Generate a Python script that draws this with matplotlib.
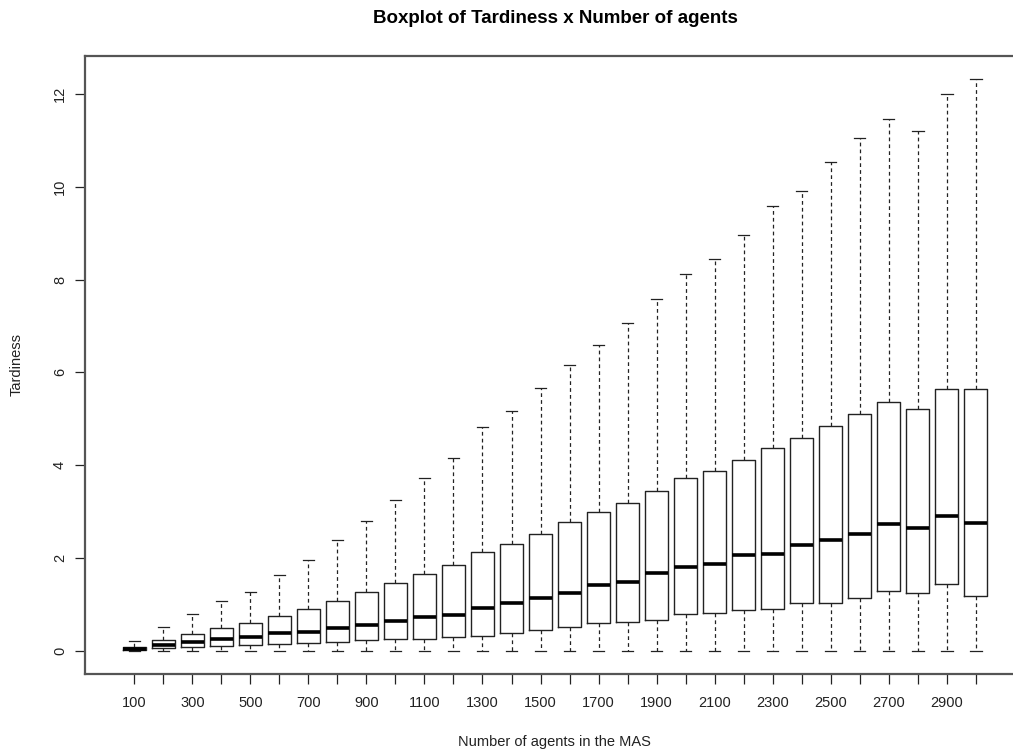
import matplotlib
matplotlib.use("Agg")
import matplotlib.pyplot as plt

plt.rcParams['font.family'] = ['Liberation Sans', 'DejaVu Sans']

# Number of agents in the multi-agent system (one box per setting)
agents = [100, 200, 300, 400, 500, 600, 700, 800, 900, 1000,
          1100, 1200, 1300, 1400, 1500, 1600, 1700, 1800, 1900, 2000,
          2100, 2200, 2300, 2400, 2500, 2600, 2700, 2800, 2900, 3000]

# Five-number summaries of tardiness per setting
whisker_low = [0.0] * 30
q1 = [0.015, 0.06, 0.09, 0.12, 0.13, 0.15, 0.17, 0.19, 0.23, 0.26,
      0.27, 0.30, 0.33, 0.40, 0.45, 0.53, 0.60, 0.62, 0.68, 0.79,
      0.82, 0.88, 0.90, 1.03, 1.03, 1.15, 1.29, 1.25, 1.44, 1.19]
median = [0.05, 0.13, 0.19, 0.27, 0.30, 0.38, 0.41, 0.49, 0.57, 0.65,
          0.73, 0.78, 0.92, 1.03, 1.14, 1.26, 1.42, 1.48, 1.68, 1.81,
          1.88, 2.06, 2.10, 2.29, 2.39, 2.53, 2.74, 2.66, 2.91, 2.75]
q3 = [0.095, 0.24, 0.37, 0.50, 0.60, 0.75, 0.90, 1.08, 1.27, 1.47,
      1.67, 1.85, 2.13, 2.30, 2.53, 2.78, 3.00, 3.18, 3.44, 3.72,
      3.87, 4.12, 4.38, 4.58, 4.84, 5.10, 5.36, 5.22, 5.65, 5.65]
whisker_high = [0.215, 0.525, 0.79, 1.08, 1.28, 1.64, 1.97, 2.40, 2.81, 3.26,
                3.73, 4.16, 4.83, 5.17, 5.66, 6.17, 6.60, 7.06, 7.57, 8.12,
                8.44, 8.95, 9.59, 9.90, 10.52, 11.04, 11.45, 11.19, 11.99, 12.32]

stats = []
for i in range(len(agents)):
    stats.append(dict(whislo=whisker_low[i], q1=q1[i], med=median[i],
                      q3=q3[i], whishi=whisker_high[i], fliers=[],
                      label=str(agents[i])))

fig = plt.figure(figsize=(10.13, 7.51), dpi=100)
ax = fig.add_axes([0.0839, 0.1025, 0.928, 0.823])

positions = list(range(1, len(agents) + 1))
ax.bxp(stats, positions=positions, widths=0.8, showfliers=False,
       boxprops=dict(color='#222222', linewidth=1.0),
       medianprops=dict(color='black', linewidth=2.6, solid_capstyle='butt'),
       whiskerprops=dict(color='#222222', linewidth=0.9, linestyle=(0, (3.0, 2.5))),
       capprops=dict(color='#222222', linewidth=0.9))

n = len(agents)
ax.set_xlim(0.5 - 0.04 * n, n + 0.5 + 0.04 * n)
ymax = max(whisker_high)
ax.set_ylim(-0.04 * ymax, ymax * 1.04)

ax.set_xticks(positions)
ax.set_xticklabels([str(a) if i % 2 == 0 else '' for i, a in enumerate(agents)])
ax.set_yticks([0, 2, 4, 6, 8, 10, 12])
ax.set_yticklabels(['0', '2', '4', '6', '8', '10', '12'], rotation=90, va='center')

ax.tick_params(axis='x', length=7, width=0.9, pad=9, labelsize=10.5, colors='#222222')
ax.tick_params(axis='y', length=7, width=0.9, pad=6, labelsize=10.5, colors='#222222')

for side in ['left', 'top', 'bottom']:
    ax.spines[side].set_color('#555555')
    ax.spines[side].set_linewidth(1.6)
ax.spines['right'].set_visible(False)

ax.set_xlabel('Number of agents in the MAS', fontsize=10.5, color='#222222')
ax.xaxis.set_label_coords(0.4995, -0.099)
ax.set_ylabel('Tardiness', fontsize=10.5, color='#222222')
ax.yaxis.set_label_coords(-0.065, 0.5)

ax.set_title('Boxplot of Tardiness x Number of agents', fontsize=13.5,
             fontweight='bold', pad=24)

fig.savefig('out.png', dpi=100)
